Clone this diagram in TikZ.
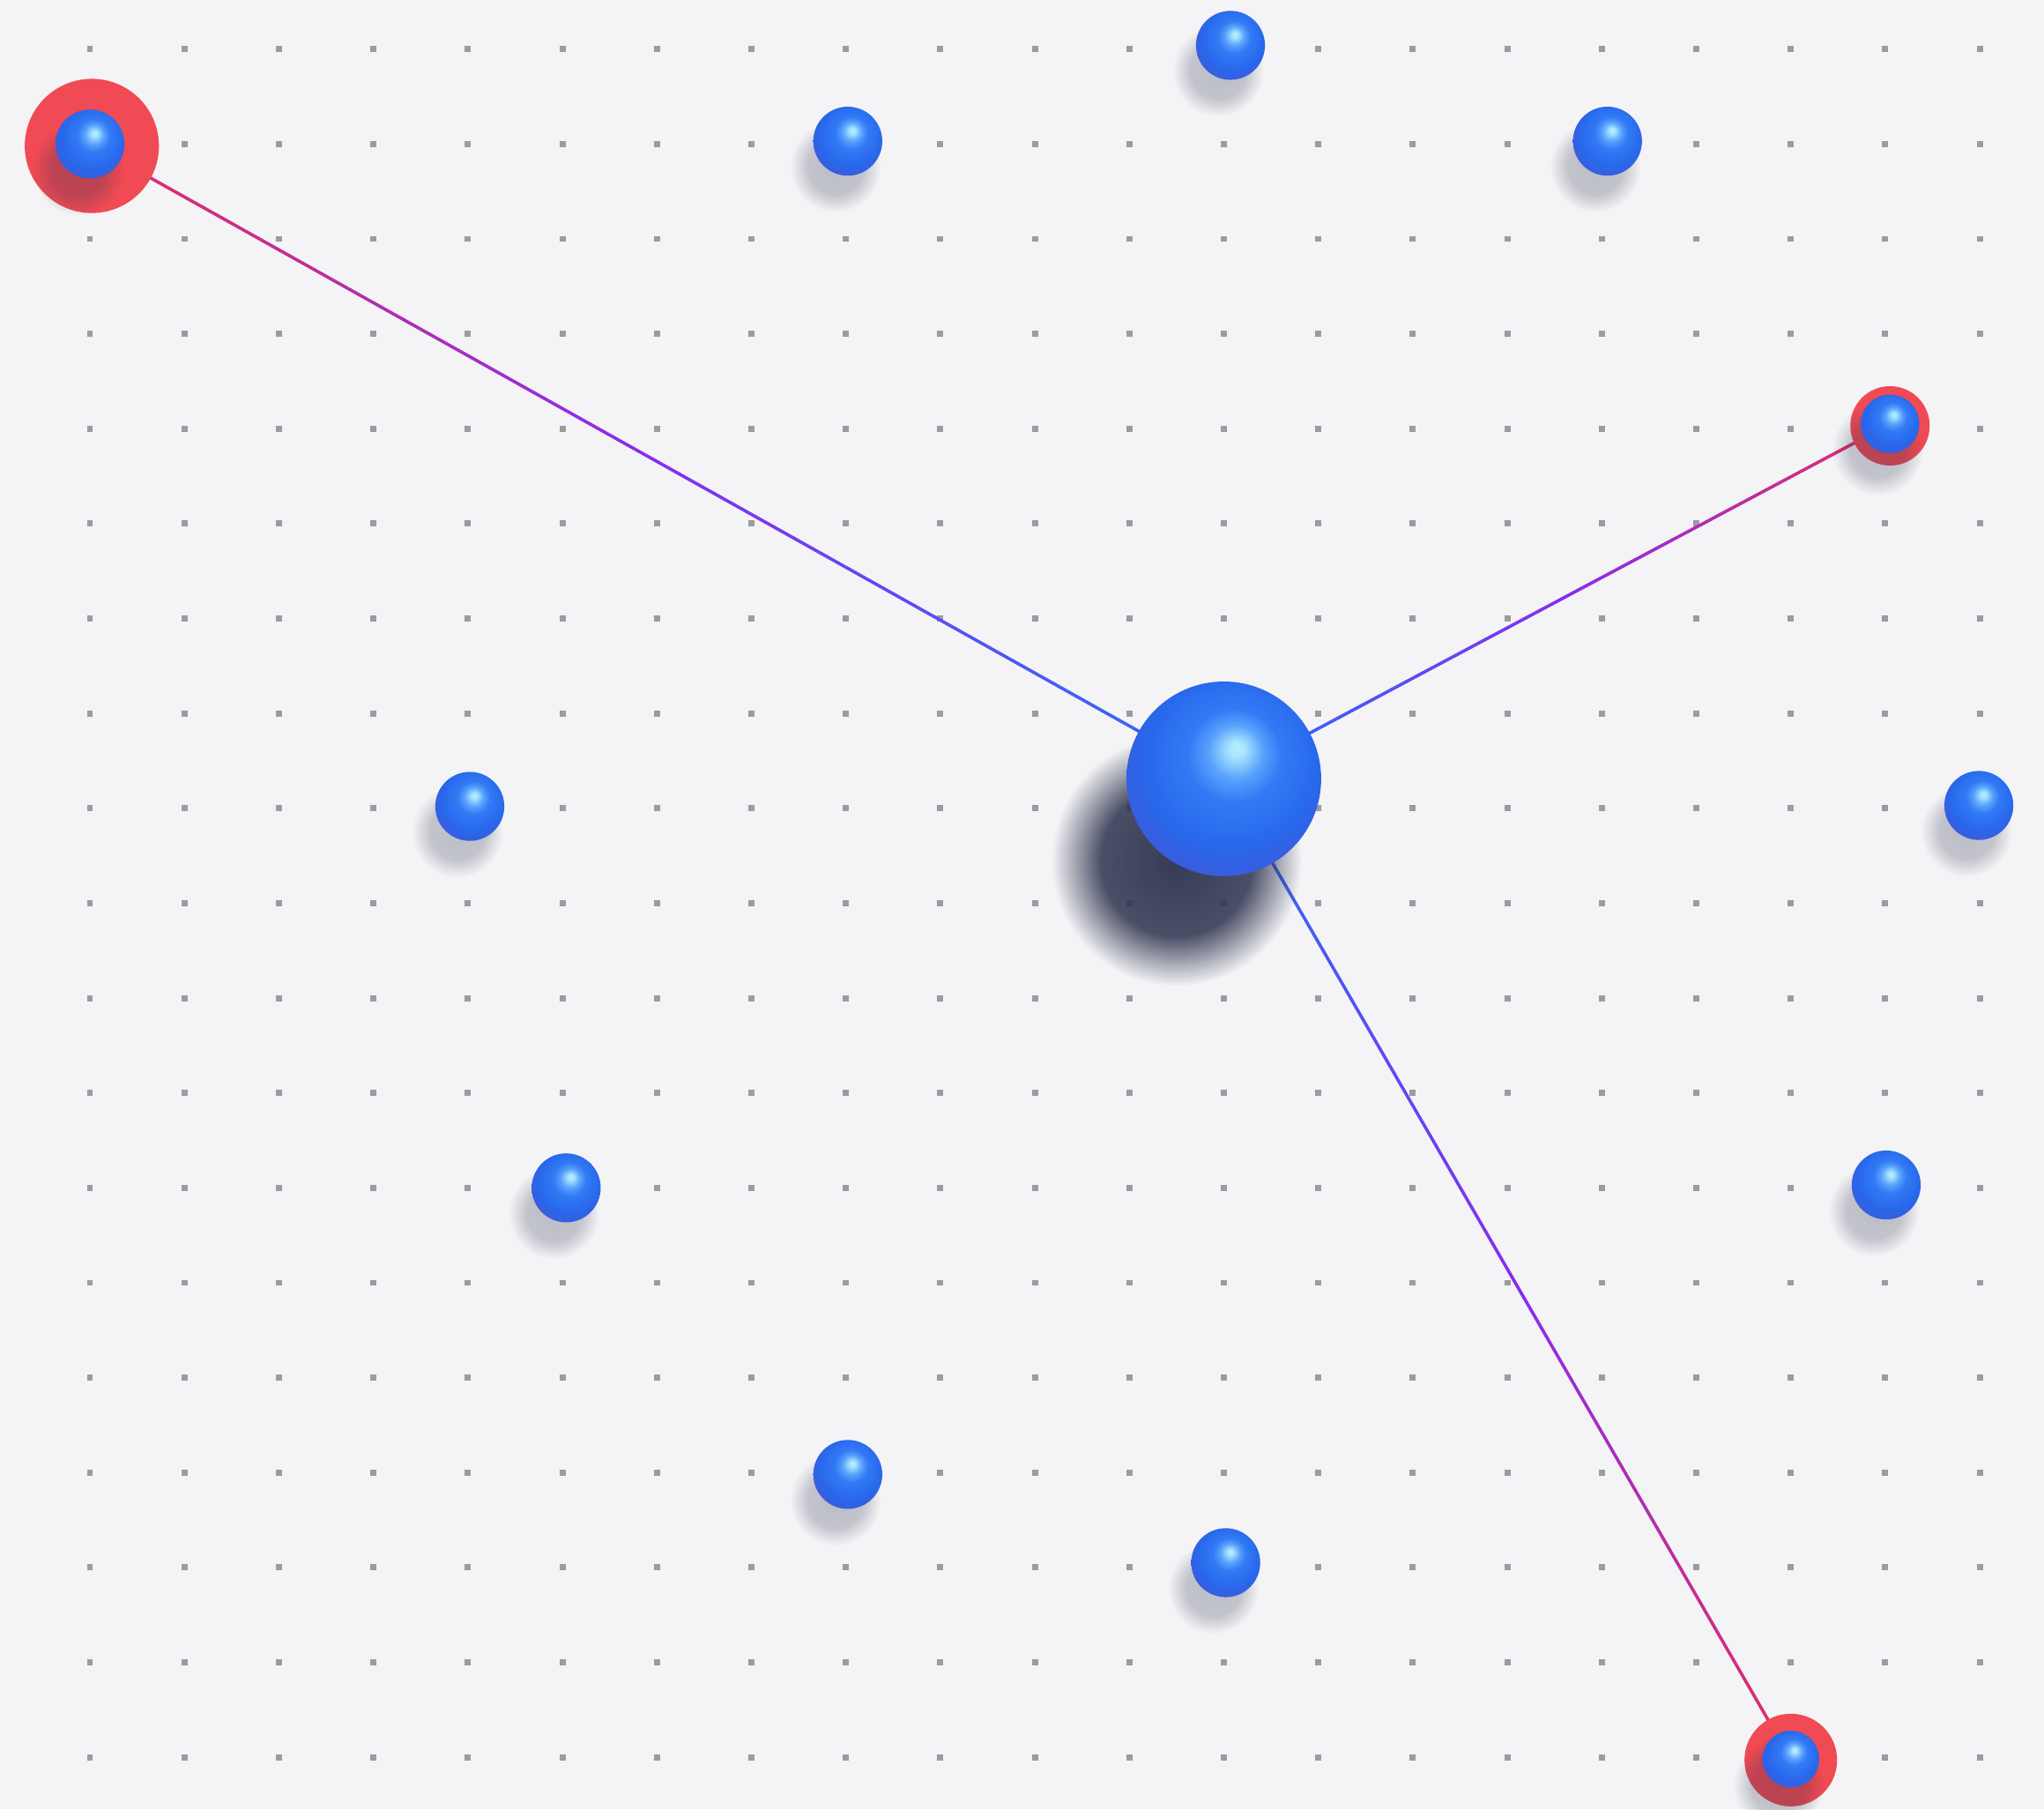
\documentclass[tikz,border=0pt]{standalone}
\usepackage{xcolor}
\usepackage{tikz}
\usetikzlibrary{calc,fadings}

\definecolor{paper}{RGB}{244,244,246}
\definecolor{dotgray}{RGB}{155,155,160}
\definecolor{ringred}{RGB}{240,74,84}
\definecolor{shadownavy}{RGB}{45,50,78}
\definecolor{sphhi}{RGB}{180,238,255}
\definecolor{sphglow}{RGB}{105,178,255}
\definecolor{sphmid}{RGB}{50,122,245}
\definecolor{sphbase}{RGB}{40,104,236}
\definecolor{sphedge}{RGB}{64,88,216}
\definecolor{lnblue}{RGB}{45,110,245}
\definecolor{lnviolet}{RGB}{135,45,240}
\definecolor{lnred}{RGB}{232,45,95}

% sphere shading, light from the upper right
\pgfdeclareradialshading{bluesphere}{\pgfpoint{3.5bp}{8bp}}{%
  color(0bp)=(sphhi); color(2bp)=(sphhi!85!sphglow); color(7bp)=(sphglow!70!sphmid);
  color(12bp)=(sphmid); color(22bp)=(sphbase); color(31bp)=(sphedge);
  color(50bp)=(sphedge)}
% soft mask for the shadows
\pgfdeclareradialshading{shadowmask}{\pgfpointorigin}{%
  color(0bp)=(pgftransparent!0); color(15bp)=(pgftransparent!10);
  color(25bp)=(pgftransparent!100); color(50bp)=(pgftransparent!100)}
\pgfdeclarefading{softshadow}{\pgfuseshading{shadowmask}}

\pgfdeclarelayer{board}
\pgfdeclarelayer{links}
\pgfsetlayers{board,links,main}

\tikzset{
  orb/.style={circle, inner sep=0pt, minimum size=#1, shade, shading=bluesphere},
  redring/.style={circle, inner sep=0pt, minimum size=#1, fill=ringred},
  griddot/.style={fill=dotgray},
  link/.style={line width=0.95pt, line cap=round},
  dropshadow/.style={fill=shadownavy, opacity=#1, path fading=softshadow}
}

\begin{document}
\begin{tikzpicture}[x=1cm, y=-1.004cm]
  \useasboundingbox (-0.952,-0.518) rectangle (20.68,18.548);
  % Board and grid dots
  \begin{pgfonlayer}{board}
    \fill[paper] (-0.952,-0.518) rectangle (20.68,18.548);
    \foreach \i in {0,...,20}
      \foreach \j in {0,...,18}
        \fill[griddot] (\i-0.032,\j-0.032) rectangle ++(0.064,0.064);
  \end{pgfonlayer}
  % Red rings round the linked spheres
  \node[redring=1.42cm] (ringtl) at (0.02,1.02) {};
  \node[redring=0.84cm] (ringtr) at (19.05,3.97) {};
  \node[redring=0.98cm] (ringbr) at (18,18.03) {};
  % Shadows
  \fill[dropshadow=0.95] (11.5,8.55) circle (1.32);
  \foreach \x/\y in {0/1, 19.05/3.95, 18/18.02, 8.02/0.97, 12.07/-0.04,
      16.06/0.97, 4.02/7.98, 19.99/7.97, 5.04/12, 19.01/11.97,
      8.02/15.02, 12.02/15.95}
    \fill[dropshadow=0.28] (\x-0.13,\y+0.27) circle (0.48);
  % Hub sphere
  \node[orb=2.06cm] (hub) at (12,7.69) {};
  % Linked spheres
  \node[orb=0.73cm] (tl) at (0,1) {};
  \node[orb=0.62cm] (tr) at (19.05,3.95) {};
  \node[orb=0.6cm] (br) at (18,18.02) {};
  % Free spheres
  \foreach \nm/\x/\y in {a/8.02/0.97, b/12.07/-0.04, c/16.06/0.97,
      d/4.02/7.98, e/19.99/7.97, f/5.04/12, g/19.01/11.97,
      h/8.02/15.02, k/12.02/15.95}
    \node[orb=0.73cm] (\nm) at (\x,\y) {};
  % Links from the hub, blue to violet to red
  \begin{pgfonlayer}{links}
    \foreach \tgt in {tl,tr,br}
      \foreach \k in {0,...,39} {
        \ifnum\k<20
          \pgfmathtruncatemacro\p{5*\k}
          \colorlet{segc}{lnviolet!\p!lnblue}
        \else
          \pgfmathtruncatemacro\p{5*(\k-20)}
          \colorlet{segc}{lnred!\p!lnviolet}
        \fi
        \pgfmathsetmacro\ta{\k/40}
        \pgfmathsetmacro\tb{(\k+1)/40}
        \draw[link, segc] ($(hub)!\ta!(\tgt)$) -- ($(hub)!\tb!(\tgt)$);
      }
  \end{pgfonlayer}
\end{tikzpicture}
\end{document}
